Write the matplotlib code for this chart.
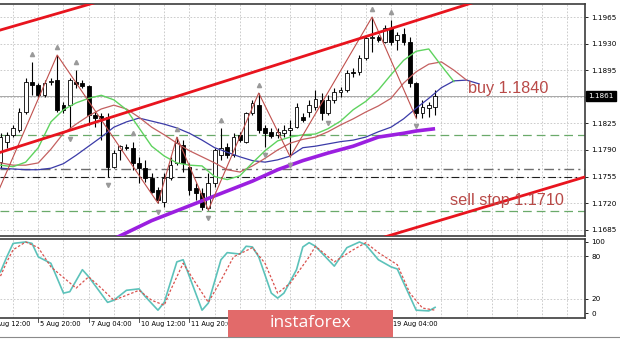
import numpy as np
import matplotlib.pyplot as plt
from matplotlib.patches import Rectangle
from matplotlib.lines import Line2D

plt.rcParams['font.family'] = ['DejaVu Sans']

# EURUSD H4 candles (bar index 0..69)
opens = [1.1774, 1.1801, 1.1810, 1.1816, 1.1840, 1.1880, 1.1876, 1.1862, 1.1880, 1.1882,
         1.1849, 1.1849, 1.1880, 1.1878, 1.1874, 1.1836, 1.1835, 1.1833, 1.1768, 1.1790,
         1.1794, 1.1793, 1.1773, 1.1766, 1.1753, 1.1737, 1.1722, 1.1753, 1.1773, 1.1797,
         1.1768, 1.1740, 1.1733, 1.1714, 1.1747, 1.1783, 1.1794, 1.1783, 1.1810, 1.1801,
         1.1839, 1.1849, 1.1819, 1.1814, 1.1810, 1.1812, 1.1816, 1.1820, 1.1833, 1.1840,
         1.1847, 1.1856, 1.1839, 1.1856, 1.1866, 1.1869, 1.1893, 1.1893, 1.1911, 1.1937,
         1.1939, 1.1932, 1.1951, 1.1935, 1.1943, 1.1932, 1.1878, 1.1839, 1.1845, 1.1847]
highs = [1.1812, 1.1814, 1.1823, 1.1845, 1.1885, 1.1906, 1.1878, 1.1882, 1.1885, 1.1915,
         1.1853, 1.1885, 1.1895, 1.1882, 1.1876, 1.1840, 1.1839, 1.1839, 1.1790, 1.1797,
         1.1798, 1.1801, 1.1781, 1.1777, 1.1760, 1.1741, 1.1760, 1.1781, 1.1807, 1.1803,
         1.1773, 1.1747, 1.1740, 1.1760, 1.1793, 1.1819, 1.1799, 1.1812, 1.1814, 1.1840,
         1.1856, 1.1865, 1.1823, 1.1819, 1.1819, 1.1823, 1.1830, 1.1852, 1.1839, 1.1856,
         1.1869, 1.1865, 1.1862, 1.1872, 1.1873, 1.1895, 1.1898, 1.1915, 1.1941, 1.1965,
         1.1941, 1.1955, 1.1961, 1.1945, 1.1951, 1.1939, 1.1880, 1.1856, 1.1853, 1.1869]
lows = [1.1766, 1.1793, 1.1807, 1.1814, 1.1837, 1.1862, 1.1860, 1.1860, 1.1876, 1.1840,
        1.1839, 1.1816, 1.1872, 1.1872, 1.1823, 1.1820, 1.1803, 1.1755, 1.1766, 1.1777,
        1.1790, 1.1764, 1.1747, 1.1748, 1.1733, 1.1720, 1.1715, 1.1751, 1.1770, 1.1761,
        1.1731, 1.1724, 1.1711, 1.1711, 1.1741, 1.1777, 1.1780, 1.1781, 1.1801, 1.1799,
        1.1836, 1.1812, 1.1794, 1.1806, 1.1806, 1.1807, 1.1781, 1.1819, 1.1827, 1.1833,
        1.1843, 1.1830, 1.1836, 1.1852, 1.1860, 1.1866, 1.1886, 1.1889, 1.1908, 1.1919,
        1.1932, 1.1931, 1.1928, 1.1922, 1.1928, 1.1873, 1.1832, 1.1832, 1.1833, 1.1836]
closes = [1.1807, 1.1810, 1.1819, 1.1840, 1.1880, 1.1876, 1.1862, 1.1878, 1.1881, 1.1843,
          1.1843, 1.1882, 1.1877, 1.1874, 1.1836, 1.1832, 1.1832, 1.1768, 1.1786, 1.1795,
          1.1793, 1.1773, 1.1766, 1.1753, 1.1735, 1.1724, 1.1753, 1.1770, 1.1799, 1.1773,
          1.1737, 1.1733, 1.1715, 1.1747, 1.1790, 1.1793, 1.1783, 1.1807, 1.1803, 1.1839,
          1.1852, 1.1816, 1.1812, 1.1808, 1.1814, 1.1816, 1.1819, 1.1847, 1.1830, 1.1849,
          1.1857, 1.1839, 1.1856, 1.1866, 1.1869, 1.1891, 1.1891, 1.1911, 1.1937, 1.1939,
          1.1935, 1.1951, 1.1932, 1.1941, 1.1932, 1.1878, 1.1839, 1.1847, 1.1849, 1.1861]

# Alligator lines (shifted forward), read every 2 bars
lips_bars = list(range(0, 73, 2))
lips = [1.1770, 1.1768, 1.1774, 1.1793, 1.1827, 1.1843, 1.1852, 1.1858, 1.1862, 1.1856,
        1.1843, 1.1819, 1.1795, 1.1782, 1.1773, 1.1770, 1.1769, 1.1755, 1.1751, 1.1756,
        1.1773, 1.1789, 1.1802, 1.1807, 1.1810, 1.1811, 1.1818, 1.1828, 1.1843, 1.1854,
        1.1869, 1.1889, 1.1908, 1.1920, 1.1923, 1.1901, 1.1880]
teeth_bars = list(range(0, 75, 2))
teeth = [1.1773, 1.1770, 1.1770, 1.1773, 1.1791, 1.1812, 1.1824, 1.1835, 1.1844, 1.1849,
         1.1844, 1.1833, 1.1820, 1.1810, 1.1799, 1.1789, 1.1781, 1.1773, 1.1764, 1.1761,
         1.1769, 1.1779, 1.1790, 1.1799, 1.1804, 1.1807, 1.1814, 1.1823, 1.1831, 1.1840,
         1.1848, 1.1858, 1.1878, 1.1893, 1.1903, 1.1906, 1.1895, 1.1882]
jaw_bars = list(range(0, 77, 2))
jaw = [1.1766, 1.1765, 1.1764, 1.1764, 1.1766, 1.1772, 1.1783, 1.1795, 1.1807, 1.1820,
       1.1827, 1.1832, 1.1828, 1.1824, 1.1819, 1.1812, 1.1803, 1.1793, 1.1787, 1.1781,
       1.1776, 1.1774, 1.1777, 1.1782, 1.1793, 1.1795, 1.1798, 1.1801, 1.1803, 1.1807,
       1.1814, 1.1820, 1.1831, 1.1845, 1.1858, 1.1872, 1.1881, 1.1882, 1.1877]

# slow moving average (thick purple)
slow_bars = [18, 20, 24, 28, 32, 36, 40, 44, 48, 52, 56, 60, 64, 66, 69]
slow_ma = [1.1673, 1.1681, 1.1697, 1.1710, 1.1723, 1.1736, 1.1749, 1.1764, 1.1776, 1.1786,
           1.1795, 1.1807, 1.1812, 1.1815, 1.1818]

# zigzag pivots
zz_bars = [-2, 9, 25, 28, 33, 41, 46, 59, 66]
zz_prices = [1.1704, 1.1915, 1.1720, 1.1807, 1.1711, 1.1865, 1.1781, 1.1965, 1.1832]

# fractals
up_fractals = [5, 9, 12, 21, 28, 35, 41, 59, 62]
down_fractals = [11, 17, 25, 33, 42, 46, 52, 66]

# channel lines (bar, price)
channel_old_bars, channel_old = [0, 15], [1.1948, 1.1984]
channel_mid_bars, channel_mid = [0, 75], [1.1787, 1.1984]
channel_low_bars, channel_low = [60, 93], [1.1673, 1.1755]

# horizontal levels
green_levels = [1.1810, 1.1710]
gray_level = 1.1765
black_level = 1.1755
bid = 1.1861

# stochastic
stoch_k_bars = [0, 1, 2, 4, 5, 6, 8, 10, 11, 13, 14, 17, 18, 20, 22, 23, 25, 26, 28, 29,
                32, 33, 35, 36, 38, 39, 40, 41, 43, 44, 45, 47, 48, 49, 50, 53, 55, 57, 58, 60,
                62, 63, 66, 68, 69]
stoch_k = [58, 79, 98, 100, 98, 79, 70, 28, 30, 61, 51, 15, 18, 32, 34, 23, 4, 15, 72, 75,
           4, 14, 75, 85, 83, 94, 93, 79, 28, 21, 28, 61, 93, 99, 94, 66, 92, 100, 96, 75,
           65, 62, 4, 3, 8]
stoch_d_bars = [0, 1, 2, 4, 6, 8, 12, 14, 16, 18, 20, 22, 24, 26, 27, 29, 31, 33, 35, 37,
                40, 42, 44, 46, 49, 50, 53, 56, 58, 60, 63, 65, 67, 69]
stoch_d = [52, 72, 89, 100, 92, 65, 35, 51, 35, 18, 25, 32, 18, 11, 32, 70, 42, 15, 46, 79,
           92, 70, 28, 42, 79, 94, 72, 89, 99, 85, 68, 28, 7, 4]

price_ticks = [1.1685, 1.1720, 1.1755, 1.1790, 1.1825, 1.1860, 1.1895, 1.1930, 1.1965]
stoch_ticks = [0, 20, 80, 100]
# time labels still visible around the watermark
label_bars = [-2, 6, 14, 22, 30, 62]
label_text = ['4 Aug 12:00', '5 Aug 20:00', '7 Aug 04:00', '10 Aug 12:00', '11 Aug 20:00',
              '19 Aug 04:00']
tick_bars = [6, 14, 22, 30, 38, 46, 54, 62]
grid_bars = list(range(2, 93, 4))

fig = plt.figure(figsize=(6.2, 3.4), dpi=100)
ax = fig.add_axes([0.0, 0.306, 0.9435, 0.682])
ax2 = fig.add_axes([0.0, 0.0647, 0.9435, 0.2324])

grid_kw = dict(color='#c4c4c4', ls=(0, (2, 2)), lw=0.6, zorder=0)
for a in (ax, ax2):
    a.set_xlim(-0.08, 92.8)
    for g in grid_bars:
        a.axvline(g, **grid_kw)
    for s in a.spines.values():
        s.set_color('#3c3c3c')
        s.set_linewidth(1.2)
    a.spines['left'].set_visible(False)
    a.yaxis.tick_right()
    a.tick_params(axis='y', labelsize=5.2, length=2.5, pad=2, width=0.6)
    a.tick_params(axis='x', length=0, labelbottom=False)
    a.set_xticks([])

ax.set_ylim(1.16768, 1.19821)
for p in price_ticks:
    ax.axhline(p, **grid_kw)
ax.set_yticks(price_ticks)
# the 1.1860 label sits under the current-price box
ax.set_yticklabels(['' if abs(p - bid) < 0.0002 else f'{p:.4f}' for p in price_ticks])

# levels
for lv in green_levels:
    ax.axhline(lv, color='#6aaa6a', ls=(0, (7, 4)), lw=0.9, zorder=1)
ax.axhline(gray_level, color='#6e6e6e', ls=(0, (7, 3, 1.5, 3)), lw=1.0, zorder=1)
ax.axhline(black_level, color='#1e1e1e', ls=(0, (7, 3, 1.5, 3)), lw=0.8, zorder=1)
ax.axhline(bid, color='#a8a8a8', lw=0.7, zorder=1)

# candles
bars = np.arange(len(opens))
o, h, l, c = map(np.array, (opens, highs, lows, closes))
ax.vlines(bars, l, h, color='black', lw=0.8, zorder=3)
body_lo = np.minimum(o, c)
body_h = np.maximum(np.abs(c - o), 0.00005)
ax.bar(bars, body_h, bottom=body_lo, width=0.6,
       color=np.where(c >= o, 'white', 'black'), edgecolor='black', linewidth=0.6, zorder=4)

# alligator + slow MA
ax.plot(jaw_bars, jaw, color='#3b3ba8', lw=0.9, zorder=5)
ax.plot(teeth_bars, teeth, color='#c46060', lw=0.9, zorder=5)
ax.plot(lips_bars, lips, color='#5fd35f', lw=1.0, zorder=5)
ax.plot(slow_bars, slow_ma, color='#9b1fe0', lw=2.6, zorder=5, solid_capstyle='butt')

# zigzag and fractals
ax.plot(zz_bars, zz_prices, color='#c0504d', lw=0.8, zorder=6)
ax.plot(up_fractals, h[up_fractals] + 0.0011, '^', ms=3, color='#9a9a9a', zorder=6)
ax.plot(down_fractals, l[down_fractals] - 0.0011, 'v', ms=3, color='#9a9a9a', zorder=6)

# channel
for xs, ys in ((channel_old_bars, channel_old), (channel_mid_bars, channel_mid),
               (channel_low_bars, channel_low)):
    ax.plot(xs, ys, color='#e8141e', lw=2.0, zorder=7)

ax.text(74.2, 1.1865, 'buy 1.1840', color='#b94a48', fontsize=11.7,
        family=['Liberation Sans', 'DejaVu Sans'], va='baseline', ha='left', zorder=8)
ax.text(71.35, 1.17176, 'sell stop 1.1710', color='#b94a48', fontsize=11.7,
        family=['Liberation Sans', 'DejaVu Sans'], va='baseline', ha='left', zorder=8)

ax.text(1.006, bid, f'{bid:.4f}', transform=ax.get_yaxis_transform(), color='white',
        fontsize=5.2, va='center', ha='left', zorder=9,
        bbox=dict(boxstyle='square,pad=0.3', fc='black', ec='black'))

# stochastic
ax2.set_ylim(-7, 104.2)
for v in (20, 80):
    ax2.axhline(v, **grid_kw)
ax2.set_yticks(stoch_ticks)
ax2.set_yticklabels([str(v) for v in stoch_ticks])
ax2.plot(stoch_k_bars, stoch_k, color='#5cc2ba', lw=1.2, zorder=3)
ax2.plot(stoch_d_bars, stoch_d, color='#d9534f', lw=0.9, ls=(0, (2, 1.5)), zorder=4)

xform = ax2.get_xaxis_transform()
for b, t in zip(label_bars, label_text):
    ax2.text(b + 0.3, -0.04, t, transform=xform, fontsize=4.8,
             ha='left', va='top', clip_on=False)
for b in tick_bars:
    ax2.plot([b, b], [-0.045, 0], transform=xform, color='#3c3c3c', lw=0.6, clip_on=False)

fig.add_artist(Line2D([0, 1], [0.0088, 0.0088], color='#8a8a8a', lw=0.8))

# watermark
fig.add_artist(Rectangle((0.3677, 0.0088), 0.2662, 0.0794, transform=fig.transFigure,
                         fc='#e26a6a', ec='none', zorder=10))
fig.text(0.5, 0.05, 'instaforex', color='white', fontsize=12.5,
         family=['Open Sans', 'DejaVu Sans'], ha='center', va='center', zorder=11)

fig.savefig('out.png', dpi=100, facecolor='white')
